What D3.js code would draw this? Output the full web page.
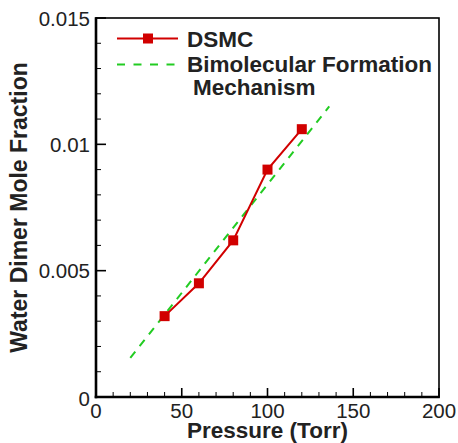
<!DOCTYPE html>
<html><head><meta charset="utf-8">
<script src="https://cdn.jsdelivr.net/npm/d3@7"></script>
<style>body{margin:0;background:#fff}svg{display:block}text{font-family:"Liberation Sans",Arial,Helvetica,sans-serif}</style>
</head><body><svg id="c" width="458" height="443"></svg>
<script>
const pressure = [40, 60, 80, 100, 120];
const dsmc = [0.0032, 0.0045, 0.0062, 0.0090, 0.0106];
const bimolecularP = [20, 136];
const bimolecular = [0.00155, 0.0115];
const xTicks = [0, 50, 100, 150, 200];
const yTicks = [0, 0.005, 0.01, 0.015];
const yTickLabels = ["0", "0.005", "0.01", "0.015"];

const svg = d3.select("#c");
const L = 96, R = 439, T = 18, B = 397;
const x = d3.scaleLinear().domain([0, 200]).range([L, R]);
const y = d3.scaleLinear().domain([0, 0.015]).range([B, T]);
const red = "#d10000", green = "#22cc22";

// frame
svg.append("rect").attr("x", L).attr("y", T).attr("width", R - L).attr("height", B - T)
  .attr("fill", "none").attr("stroke", "#000").attr("stroke-width", 1.6);
svg.append("line").attr("x1", L).attr("x2", L).attr("y1", T - 0.8).attr("y2", B + 1.3).attr("stroke", "#000").attr("stroke-width", 2.6);
svg.append("line").attr("x1", L - 1.3).attr("x2", R + 0.8).attr("y1", B).attr("y2", B).attr("stroke", "#000").attr("stroke-width", 2.6);

// ticks
const xMinor = d3.range(0, 201, 10).filter(v => v % 50 !== 0);
const yMinor = d3.range(0, 16).map(v => v * 0.001).filter((v, i) => i % 5 !== 0);
const g = svg.append("g").attr("stroke", "#000");
xTicks.forEach(v => g.append("line").attr("x1", x(v)).attr("x2", x(v)).attr("y1", B).attr("y2", B - 9).attr("stroke-width", 1.6));
xMinor.forEach(v => g.append("line").attr("x1", x(v)).attr("x2", x(v)).attr("y1", B).attr("y2", B - 5).attr("stroke-width", 1));
yTicks.forEach(v => g.append("line").attr("x1", L).attr("x2", L + 10).attr("y1", y(v)).attr("y2", y(v)).attr("stroke-width", 1.6));
yMinor.forEach(v => g.append("line").attr("x1", L).attr("x2", L + 5).attr("y1", y(v)).attr("y2", y(v)).attr("stroke-width", 1));

// tick labels
svg.selectAll(".xl").data(xTicks).enter().append("text")
  .attr("x", d => x(d)).attr("y", 418).attr("text-anchor", "middle")
  .attr("font-size", 20.5).attr("fill", "#222").text(d => d);
svg.selectAll(".yl").data(yTicks).enter().append("text")
  .attr("x", 90).attr("y", (d, i) => y(d) + 7.5 + (i === 0 ? 1 : 0)).attr("text-anchor", "end")
  .attr("font-size", 20.5).attr("fill", "#222").text((d, i) => yTickLabels[i]);

// axis titles
svg.append("text").attr("x", (L + R) / 2).attr("y", 437.5).attr("text-anchor", "middle")
  .attr("font-size", 22.5).attr("font-weight", "bold").attr("fill", "#222").text("Pressure (Torr)");
svg.append("text").attr("transform", `translate(27,${(T + B) / 2}) rotate(-90)`).attr("text-anchor", "middle")
  .attr("font-size", 23).attr("font-weight", "bold").attr("fill", "#222").text("Water Dimer Mole Fraction");

// bimolecular dashed line
svg.append("path").datum(bimolecularP.map((p, i) => [p, bimolecular[i]]))
  .attr("d", d3.line().x(d => x(d[0])).y(d => y(d[1])))
  .attr("fill", "none").attr("stroke", green).attr("stroke-width", 2).attr("stroke-dasharray", "8,7");

// DSMC
const pts = pressure.map((p, i) => [p, dsmc[i]]);
svg.append("path").datum(pts).attr("d", d3.line().x(d => x(d[0])).y(d => y(d[1])))
  .attr("fill", "none").attr("stroke", red).attr("stroke-width", 2);
svg.selectAll(".m").data(pts).enter().append("rect")
  .attr("x", d => x(d[0]) - 5).attr("y", d => y(d[1]) - 5).attr("width", 10).attr("height", 10).attr("fill", red);

// legend
svg.append("line").attr("x1", 117).attr("x2", 178).attr("y1", 38.5).attr("y2", 38.5).attr("stroke", red).attr("stroke-width", 2);
svg.append("rect").attr("x", 143).attr("y", 33.5).attr("width", 10).attr("height", 10).attr("fill", red);
svg.append("line").attr("x1", 117).attr("x2", 179).attr("y1", 64.5).attr("y2", 64.5).attr("stroke", green).attr("stroke-width", 2).attr("stroke-dasharray", "8,8.5");
const lt = [["DSMC", 187, 47], ["Bimolecular Formation", 187, 72], ["Mechanism", 193, 95]];
lt.forEach(t => svg.append("text").attr("x", t[1]).attr("y", t[2]).attr("font-size", 22.5).attr("font-weight", "bold").attr("fill", "#222").text(t[0]));
</script></body></html>
